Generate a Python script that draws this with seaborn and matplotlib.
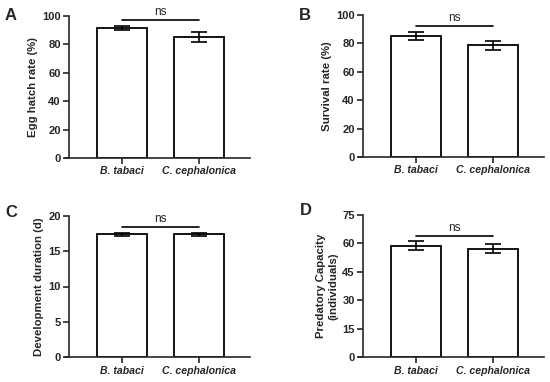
import pandas as pd
import matplotlib.pyplot as plt
import seaborn as sns

species = ["B. tabaci", "C. cephalonica"]

egg_hatch = [91.5, 85.2]
egg_hatch_err = [1.4, 3.3]
survival = [85.2, 78.7]
survival_err = [2.7, 3.1]
duration = [17.35, 17.4]
duration_err = [0.15, 0.22]
predatory = [58.8, 57.2]
predatory_err = [2.4, 2.4]

ns_heights = [97, 92, 18.45, 64]

sns.set_style("ticks")
plt.rcParams['font.family'] = ['Liberation Sans', 'DejaVu Sans']

fig = plt.figure(figsize=(5.5, 3.82), dpi=100)

# panel positions in pixels: (left, right, top, bottom)
boxes = [(65, 250, 16, 158), (359, 544, 15, 157),
         (65, 250, 215.7, 357.3), (359, 544, 215, 357.3)]
panels = [
    ("A", egg_hatch, egg_hatch_err, "Egg hatch rate (%)", 100, 20),
    ("B", survival, survival_err, "Survival rate (%)", 100, 20),
    ("C", duration, duration_err, "Development duration (d)", 20, 5),
    ("D", predatory, predatory_err, "Predatory Capacity\n(individuals)", 75, 15),
]
letter_pos = [(5, 20), (299, 20), (5, 217), (300, 215)]

for i, (letter, vals, errs, ylab, ymax, step) in enumerate(panels):
    l, r, t, b = boxes[i]
    ax = fig.add_axes([l / 550, 1 - b / 382, (r - l) / 550, (b - t) / 382])
    df = pd.DataFrame({"species": species, "value": vals})
    sns.barplot(data=df, x="species", y="value", ax=ax, color="white",
                edgecolor="black", linewidth=1.3, width=0.65, errorbar=None,
                saturation=1)
    ax.errorbar([0, 1], vals, yerr=errs, fmt="none", ecolor="black",
                elinewidth=1.2, capsize=6, capthick=1.2, zorder=5)
    ax.set_xlim(-0.745, 1.665)
    ax.set_ylim(0, ymax)
    ax.set_yticks(range(0, ymax + 1, step))
    ax.spines['left'].set_position(('axes', 0.022))
    for s in ['left', 'bottom']:
        ax.spines[s].set_linewidth(1.2)
    sns.despine(ax=ax)
    ax.tick_params(axis='both', length=4, width=1.2, pad=2)
    ax.tick_params(axis='y', labelsize=8)
    ax.tick_params(axis='x', labelsize=7.6)
    for lab in ax.get_yticklabels():
        lab.set_fontweight("bold")
    for lab in ax.get_xticklabels():
        lab.set_fontweight("bold")
        lab.set_fontstyle("italic")
    ax.set_xlabel("")
    ax.set_ylabel(ylab, fontsize=8.2, fontweight="bold", labelpad=3)
    # significance bar
    ax.plot([0, 1], [ns_heights[i]] * 2, color="black", lw=1.2, clip_on=False)
    ax.text(0.5, ns_heights[i] + ymax * 0.015, "ns", ha="center", va="bottom",
            fontsize=8.5, clip_on=False)
    fig.text(letter_pos[i][0] / 550, 1 - letter_pos[i][1] / 382, letter,
             fontsize=12, fontweight="bold", ha="left", va="baseline")

plt.savefig("out.png", dpi=100)
plt.close()
